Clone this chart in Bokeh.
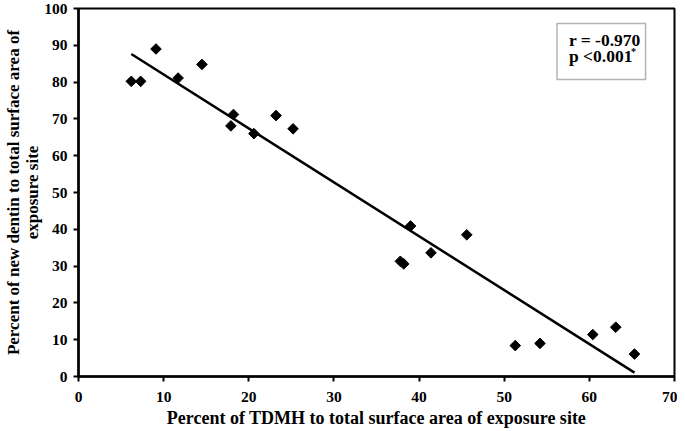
import numpy as np
from bokeh.plotting import figure
from bokeh.models import (Range1d, SingleIntervalTicker, FixedTicker, Label, BoxAnnotation,
                          ColumnDataSource, LinearAxis)
from bokeh.embed import file_html
from bokeh.resources import INLINE

# Data
tdmh_pct = [6.2, 7.3, 9.1, 11.7, 14.5, 17.9, 18.2, 20.6, 23.2, 25.2,
            37.8, 38.2, 39.0, 41.4, 45.6, 51.3, 54.2, 60.4, 63.1, 65.3]
dentin_pct = [80.2, 80.2, 89.0, 81.1, 84.8, 68.1, 71.2, 66.0, 70.9, 67.3,
              31.3, 30.6, 40.9, 33.6, 38.5, 8.4, 9.0, 11.4, 13.4, 6.1]
r_text = "r = -0.970"
p_text = "p <0.001"
x_label = "Percent of TDMH to total surface area of exposure site"
y_label_1 = "Percent of new dentin to total surface area of"
y_label_2 = "exposure site"
x_ticks_interval = 10
y_ticks_interval = 10

FONT = "Liberation Serif"
TICK_FS = "15.5px"
XLABEL_FS = "18px"
YLABEL_FS = "17px"

p = figure(width=677, height=430, output_backend="svg", toolbar_location=None,
           x_range=Range1d(0, 70), y_range=Range1d(0, 100),
           min_border_left=77, min_border_right=3, min_border_top=8, min_border_bottom=54)

p.xgrid.visible = False
p.ygrid.visible = False
p.outline_line_color = "black"
p.outline_line_width = 2
p.background_fill_color = "white"
p.border_fill_color = "white"


def style_axis(ax, label_fs):
    ax.axis_line_width = 2.5
    ax.axis_line_color = "black"
    ax.major_tick_line_width = 2
    ax.major_tick_line_color = "black"
    ax.major_tick_out = 5
    ax.major_tick_in = 0
    ax.minor_tick_line_color = None
    ax.major_label_text_font = FONT
    ax.major_label_text_font_style = "bold"
    ax.major_label_text_font_size = TICK_FS
    ax.major_label_text_color = "black"
    ax.axis_label_text_font = FONT
    ax.axis_label_text_font_style = "bold"
    ax.axis_label_text_font_size = label_fs
    ax.axis_label_text_color = "black"


style_axis(p.xaxis[0], XLABEL_FS)
style_axis(p.yaxis[0], YLABEL_FS)

p.xaxis.ticker = SingleIntervalTicker(interval=x_ticks_interval)
p.yaxis.ticker = SingleIntervalTicker(interval=y_ticks_interval)
p.xaxis.axis_label = x_label
p.yaxis.axis_label = y_label_2
p.xaxis.major_label_standoff = 10
p.xaxis.axis_label_standoff = 3
p.yaxis.major_label_standoff = 6
p.yaxis.axis_label_standoff = -1

# outer line of the two-line y-axis title
outer = LinearAxis(axis_label=y_label_1, ticker=FixedTicker(ticks=[]),
                   axis_line_color=None, major_tick_line_color=None,
                   minor_tick_line_color=None, major_label_text_font_size="0px",
                   major_tick_out=0, major_tick_in=0, major_label_standoff=0,
                   axis_label_standoff=-2,
                   axis_label_text_font=FONT, axis_label_text_font_style="bold",
                   axis_label_text_font_size=YLABEL_FS, axis_label_text_color="black")
p.add_layout(outer, "left")

# regression line from the data
x = np.array(tdmh_pct)
y = np.array(dentin_pct)
slope, intercept = np.polyfit(x, y, 1)
xl = np.array([x.min(), x.max()])
p.line(xl, slope * xl + intercept, line_color="black", line_width=2.5)

src = ColumnDataSource(dict(x=tdmh_pct, y=dentin_pct))
p.scatter("x", "y", source=src, marker="square", angle=np.pi / 4, size=7.5,
          fill_color="black", line_color="black")

# annotation box
p.add_layout(BoxAnnotation(left=56.2, right=66.6, top=95.9, bottom=80.7,
                           fill_color="white", fill_alpha=1.0,
                           line_color="black", line_width=1.5))
p.add_layout(Label(x=57.6, y=91.4, text=r_text, text_font=FONT, text_font_style="bold",
                   text_font_size="17.5px", text_baseline="middle", text_color="black"))
p.add_layout(Label(x=57.6, y=87.2, text=p_text, text_font=FONT, text_font_style="bold",
                   text_font_size="17.5px", text_baseline="middle", text_color="black"))
p.add_layout(Label(x=64.9, y=88.3, text="*", text_font=FONT, text_font_style="bold",
                   text_font_size="10px", text_baseline="middle", text_color="black"))

open("out.html", "w").write(file_html(p, INLINE))
